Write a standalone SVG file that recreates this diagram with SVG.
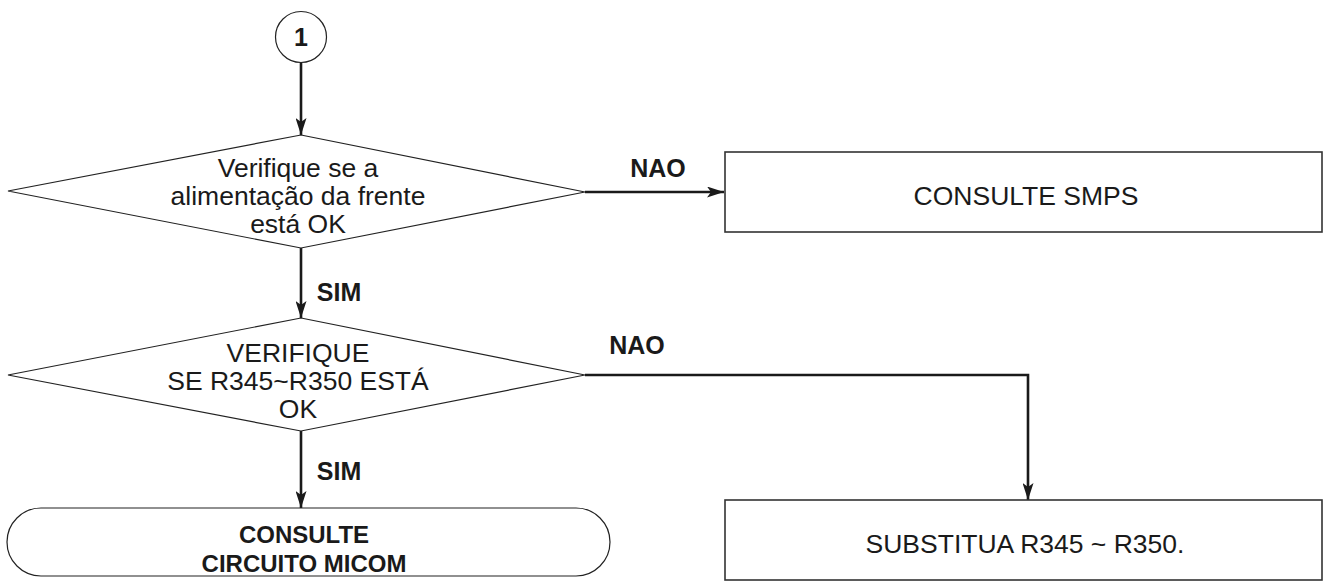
<svg xmlns="http://www.w3.org/2000/svg" width="1330" height="581" viewBox="0 0 1330 581">
<style>
.shape{fill:#fff;stroke:#222;stroke-width:1.2}
.box{fill:#fff;stroke:#333;stroke-width:1.6}
.conn{fill:none;stroke:#1a1a1a;stroke-width:2.6}
.t{font-family:"Liberation Sans",Arial,sans-serif;font-size:26.5px;fill:#1a1a1a;text-anchor:middle}
.b{font-weight:bold;font-size:24px}
.lbl{font-weight:bold;font-size:25px}
</style>
<defs>
<marker id="ah" viewBox="0 0 17 11" refX="17" refY="5.5" markerWidth="17" markerHeight="11" markerUnits="userSpaceOnUse" orient="auto">
<path d="M0,0 L17,5.5 L0,11 L4,5.5 Z" fill="#1a1a1a"/>
</marker>
</defs>
<g id="connectors">
<line class="conn" x1="301" y1="63" x2="301" y2="135" marker-end="url(#ah)"/>
<line class="conn" x1="585" y1="192" x2="724" y2="192" marker-end="url(#ah)"/>
<line class="conn" x1="301" y1="248" x2="301" y2="318" marker-end="url(#ah)"/>
<polyline class="conn" points="585,375 1028,375 1028,500" marker-end="url(#ah)"/>
<line class="conn" x1="301" y1="431" x2="301" y2="508" marker-end="url(#ah)"/>
<text class="t lbl" x="658" y="177">NAO</text>
<text class="t lbl" x="339" y="301">SIM</text>
<text class="t lbl" x="637" y="354">NAO</text>
<text class="t lbl" x="339" y="480">SIM</text>
</g>
<g id="n1">
<circle class="shape" cx="301" cy="37" r="25.5"/>
<text class="t lbl" x="301" y="46">1</text>
</g>
<g id="d1">
<polygon class="shape" points="301,135 585,192 301,248 8,191"/>
<text class="t" x="298" y="177">Verifique se a</text>
<text class="t" x="298" y="205">alimentação da frente</text>
<text class="t" x="298" y="233">está OK</text>
</g>
<g id="smps">
<rect class="box" x="725" y="152" width="597" height="80"/>
<text class="t" x="1026" y="205">CONSULTE SMPS</text>
</g>
<g id="d2">
<polygon class="shape" points="301,318 585,375 301,431 8,375"/>
<text class="t" x="298" y="362">VERIFIQUE</text>
<text class="t" x="298" y="390">SE R345~R350 ESTÁ</text>
<text class="t" x="298" y="418">OK</text>
</g>
<g id="subst">
<rect class="box" x="725" y="500" width="597" height="80"/>
<text class="t" x="1025" y="553">SUBSTITUA R345 ~ R350.</text>
</g>
<g id="micom">
<rect class="shape" x="7" y="508" width="603" height="68" rx="34" ry="34"/>
<text class="t b" x="304" y="543">CONSULTE</text>
<text class="t b" x="304" y="572">CIRCUITO MICOM</text>
</g>
</svg>
